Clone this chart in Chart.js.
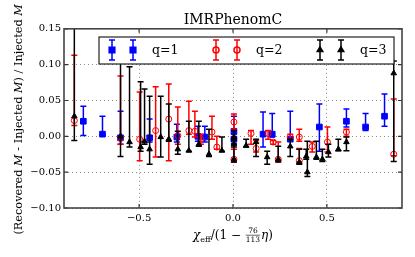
<!DOCTYPE html>
<html>
<head>
<meta charset="utf-8">
<script src="https://cdn.jsdelivr.net/npm/chart.js@4.4.0/dist/chart.umd.min.js"></script>
<style>
  html, body { margin: 0; padding: 0; background: #fff; }
  #wrap { width: 415px; height: 257px; }
</style>
</head>
<body>
<div id="wrap"><canvas id="c" width="415" height="257"></canvas></div>
<script>
// ─── DATA ─────────────────────────────────────────────────────────────────────
const X_TICKS = [-0.5, 0, 0.5];
const X_TICK_LABELS = ['−0.5', '0.0', '0.5'];
const Y_TICKS = [-0.10, -0.05, 0, 0.05, 0.10, 0.15];
const Y_TICK_LABELS = ['−0.10', '−0.05', '0.00', '0.05', '0.10', '0.15'];
const SERIES_NAMES = ['q=1', 'q=2', 'q=3'];
const TITLE = 'IMRPhenomC';

// q=1 : x, value, lower end, upper end of error bar
const Q1_X  = [-0.797, -0.695, -0.599, -0.444, -0.299, -0.187, -0.150, 0.005, 0.005, 0.160, 0.209, 0.305, 0.460, 0.604, 0.706, 0.807];
const Q1_Y  = [ 0.021,  0.003, -0.002, -0.002, -0.001,  0.000, -0.001, 0.007,-0.004, 0.003, 0.003,-0.004, 0.013, 0.021, 0.013, 0.028];
const Q1_LO = [ 0.001,  0.002, -0.011, -0.008, -0.008, -0.007, -0.008,-0.011,-0.010,-0.015,-0.001,-0.007,-0.021, 0.013, 0.008, 0.014];
const Q1_HI = [ 0.042,  0.028,  0.035,  0.024,  0.017,  0.014,  0.014, 0.028, 0.003, 0.034, 0.032, 0.035, 0.045, 0.038, 0.032, 0.059];

// q=2
const Q2_X  = [-0.845,-0.599,-0.497,-0.412,-0.342,-0.294,-0.235,-0.203,-0.171,-0.112,-0.086, 0.005, 0.005, 0.096, 0.123, 0.187, 0.214, 0.241, 0.305, 0.353, 0.353, 0.422, 0.503, 0.604, 0.856];
const Q2_Y  = [ 0.022,-0.003,-0.004, 0.008, 0.024, 0.001, 0.008, 0.007,-0.004, 0.006,-0.015, 0.020,-0.032, 0.004,-0.017, 0.004,-0.008,-0.032,-0.001,-0.001,-0.034,-0.014,-0.008, 0.006,-0.025];
const Q2_LO = [ 0.015,-0.011,-0.034,-0.029,-0.034,-0.011, 0.003,-0.001,-0.011,-0.004,-0.018, 0.010,-0.036,-0.011,-0.022,-0.004,-0.011,-0.035,-0.004,-0.007,-0.036,-0.022,-0.022, 0.000,-0.027];
const Q2_HI = [ 0.113, 0.084, 0.062, 0.069, 0.073, 0.041, 0.049, 0.035, 0.003, 0.028, 0.000, 0.031,-0.018, 0.008,-0.006, 0.008,-0.006,-0.008, 0.003, 0.010,-0.017,-0.008, 0.013, 0.010, 0.052];

// q=3
const Q3_X  = [-0.845,-0.599,-0.551,-0.492,-0.471,-0.444,-0.385,-0.342,-0.294,-0.235,-0.182,-0.128,-0.059, 0.005, 0.005, 0.005, 0.070, 0.123, 0.182, 0.241, 0.305, 0.353, 0.396, 0.390, 0.444, 0.476, 0.508, 0.561, 0.604, 0.856];
const Q3_Y  = [ 0.028, 0.000,-0.008,-0.015,-0.007,-0.018,-0.001,-0.004,-0.018,-0.020,-0.011,-0.025,-0.020,-0.001,-0.011,-0.032,-0.013,-0.008,-0.029,-0.032,-0.014,-0.036,-0.050,-0.028,-0.029,-0.032,-0.022,-0.018,-0.008, 0.088];
const Q3_LO = [-0.006,-0.028,-0.015,-0.021,-0.011,-0.039,-0.029,-0.007,-0.025,-0.021,-0.014,-0.028,-0.021,-0.005,-0.015,-0.036,-0.015,-0.028,-0.039,-0.036,-0.028,-0.039,-0.056,-0.032,-0.032,-0.035,-0.029,-0.020,-0.020,-0.035];
const Q3_HI = [ 0.200, 0.110, 0.097, 0.076, 0.066, 0.056, 0.056, 0.045, 0.007, 0.021, 0.021, 0.010,-0.001, 0.008,-0.005,-0.004,-0.004,-0.004,-0.021,-0.014,-0.004,-0.018,-0.007,-0.018,-0.007,-0.018,-0.011,-0.004,-0.001, 0.105];

// ─── STYLE ────────────────────────────────────────────────────────────────────
const FONT = "'DejaVu Serif', 'Liberation Serif', serif";
const SERIES_STYLE = [
  { color: '#0000ff', pointStyle: 'rect',     radius: 4.0, fill: '#0000ff' },
  { color: '#ff0000', pointStyle: 'circle',   radius: 3.0, fill: 'rgba(0,0,0,0)' },
  { color: '#000000', pointStyle: 'triangle', radius: 3.2, fill: '#000000' }
];

const pts = (xs, ys, lo, hi) => xs.map((v, i) => ({ x: v, y: ys[i], lo: lo[i], hi: hi[i] }));
const SERIES_DATA = [
  pts(Q1_X, Q1_Y, Q1_LO, Q1_HI),
  pts(Q2_X, Q2_Y, Q2_LO, Q2_HI),
  pts(Q3_X, Q3_Y, Q3_LO, Q3_HI)
];

// ─── PLUGINS ──────────────────────────────────────────────────────────────────
// vertical error bars with caps, drawn just before each dataset's markers
const errorBars = {
  id: 'errorBars',
  beforeDatasetDraw(chart, args) {
    const ds = chart.data.datasets[args.index];
    const { ctx, chartArea: a, scales: { x, y } } = chart;
    ctx.save();
    ctx.beginPath();
    ctx.rect(a.left, a.top, a.right - a.left, a.bottom - a.top);
    ctx.clip();
    ctx.strokeStyle = ds.borderColor;
    ctx.lineWidth = 1.5;
    ds.data.forEach(p => {
      const px = x.getPixelForValue(p.x);
      const top = y.getPixelForValue(p.hi);
      const bot = y.getPixelForValue(p.lo);
      ctx.beginPath();
      ctx.moveTo(px, top); ctx.lineTo(px, bot);
      ctx.moveTo(px - 3, top); ctx.lineTo(px + 3, top);
      ctx.moveTo(px - 3, bot); ctx.lineTo(px + 3, bot);
      ctx.stroke();
    });
    ctx.restore();
  }
};

function drawMarker(ctx, st, x, y) {
  ctx.save();
  ctx.strokeStyle = st.color;
  ctx.fillStyle = st.fill;
  Chart.helpers.drawPoint(ctx, { pointStyle: st.pointStyle, radius: st.radius, rotation: 0, borderWidth: 1 }, x, y);
  ctx.restore();
}

function drawLegend(ctx) {
  const l = 99, t = 37, r = 394, b = 64;
  ctx.save();
  ctx.fillStyle = '#fff';
  ctx.fillRect(l, t, r - l, b - t);
  ctx.strokeStyle = '#222';
  ctx.lineWidth = 1.2;
  ctx.strokeRect(l, t, r - l, b - t);
  const cy = 50;
  SERIES_NAMES.forEach((name, i) => {
    const st = SERIES_STYLE[i];
    [112 + i * 104, 133 + i * 104].forEach(mx => {
      ctx.strokeStyle = st.color;
      ctx.lineWidth = 1.5;
      ctx.beginPath();
      ctx.moveTo(mx, cy - 10); ctx.lineTo(mx, cy + 10);
      ctx.moveTo(mx - 3, cy - 10); ctx.lineTo(mx + 3, cy - 10);
      ctx.moveTo(mx - 3, cy + 10); ctx.lineTo(mx + 3, cy + 10);
      ctx.stroke();
      drawMarker(ctx, st, mx, cy);
    });
    ctx.fillStyle = '#000';
    ctx.font = `12.5px ${FONT}`;
    ctx.textBaseline = 'middle';
    ctx.textAlign = 'left';
    ctx.fillText(name, 152 + i * 104, cy + 1);
  });
  ctx.restore();
}

// draws a list of text runs left to right, returns total width
function runs(ctx, parts, x, y, measureOnly) {
  let cx = x;
  parts.forEach(p => {
    ctx.font = `${p.it ? 'italic ' : ''}${p.size}px ${FONT}`;
    const w = ctx.measureText(p.t).width;
    if (!measureOnly) ctx.fillText(p.t, cx, y + (p.dy || 0));
    cx += w;
  });
  return cx - x;
}

function drawAxisLabels(chart) {
  const { ctx, chartArea: a } = chart;
  ctx.save();
  ctx.fillStyle = '#000';
  ctx.textBaseline = 'alphabetic';
  ctx.textAlign = 'left';

  // y label, rotated
  const ys = 11.3;
  const yParts = [
    { t: '(Recovered ', size: ys }, { t: 'M', size: ys, it: true },
    { t: ' - Injected ', size: ys }, { t: 'M', size: ys, it: true },
    { t: ') / Injected ', size: ys }, { t: 'M', size: ys, it: true }
  ];
  const yw = runs(ctx, yParts, 0, 0, true);
  ctx.save();
  ctx.translate(22, (a.top + a.bottom) / 2 + 1);
  ctx.rotate(-Math.PI / 2);
  runs(ctx, yParts, -yw / 2, 0, false);
  ctx.restore();

  // x label: chi_eff / (1 - 76/113 eta)
  const base = 239;
  const pre = [{ t: 'χ', size: 12, it: true }, { t: 'eff', size: 8, dy: 2.5 }, { t: '/(1 − ', size: 12 }];
  const post = [{ t: 'η', size: 12, it: true }, { t: ')', size: 12 }];
  ctx.font = `7.5px ${FONT}`;
  const fw = Math.max(ctx.measureText('76').width, ctx.measureText('113').width) + 2;
  const total = runs(ctx, pre, 0, 0, true) + fw + runs(ctx, post, 0, 0, true);
  let x0 = (a.left + a.right) / 2 - total / 2;
  x0 += runs(ctx, pre, x0, base, false);
  ctx.font = `7.5px ${FONT}`;
  ctx.textAlign = 'center';
  ctx.fillText('76', x0 + fw / 2, base - 6);
  ctx.fillText('113', x0 + fw / 2, base + 3);
  ctx.lineWidth = 0.6;
  ctx.strokeStyle = '#000';
  ctx.beginPath();
  ctx.moveTo(x0 + 1, base - 3.8); ctx.lineTo(x0 + fw - 1, base - 3.8);
  ctx.stroke();
  ctx.textAlign = 'left';
  runs(ctx, post, x0 + fw, base, false);
  ctx.restore();
}

const frame = {
  id: 'frame',
  afterDraw(chart) {
    const { ctx, chartArea: a, scales: { x, y } } = chart;
    ctx.save();
    ctx.strokeStyle = '#333';
    ctx.lineWidth = 1.2;
    // inward tick marks
    ctx.beginPath();
    X_TICKS.forEach(v => {
      const px = x.getPixelForValue(v);
      ctx.moveTo(px, a.bottom); ctx.lineTo(px, a.bottom - 4);
      ctx.moveTo(px, a.top); ctx.lineTo(px, a.top + 4);
    });
    Y_TICKS.forEach(v => {
      const py = y.getPixelForValue(v);
      ctx.moveTo(a.left, py); ctx.lineTo(a.left + 4, py);
      ctx.moveTo(a.right, py); ctx.lineTo(a.right - 4, py);
    });
    ctx.stroke();
    ctx.lineWidth = 1.6;
    ctx.strokeStyle = '#444';
    ctx.strokeRect(a.left, a.top, a.right - a.left, a.bottom - a.top);
    ctx.restore();
    drawLegend(ctx);
    drawAxisLabels(chart);
  }
};

// ─── CHART ────────────────────────────────────────────────────────────────────
const tickFont = { family: FONT, size: 10 };

new Chart(document.getElementById('c'), {
  type: 'scatter',
  data: {
    datasets: SERIES_NAMES.map((name, i) => ({
      label: name,
      data: SERIES_DATA[i],
      pointStyle: SERIES_STYLE[i].pointStyle,
      pointRadius: SERIES_STYLE[i].radius,
      pointBackgroundColor: SERIES_STYLE[i].fill,
      pointBorderColor: SERIES_STYLE[i].color,
      borderColor: SERIES_STYLE[i].color,
      pointBorderWidth: 1,
      order: 3 - i
    }))
  },
  options: {
    responsive: false,
    animation: false,
    devicePixelRatio: 1,
    events: [],
    layout: { padding: { top: 0, right: 13, bottom: 0, left: 0 } },
    plugins: {
      legend: { display: false },
      tooltip: { enabled: false },
      title: {
        display: true,
        text: TITLE,
        fullSize: false,
        color: '#000',
        font: { family: FONT, size: 14, weight: 'normal' },
        padding: { top: 12, bottom: 0 }
      }
    },
    scales: {
      x: {
        type: 'linear',
        min: -0.9,
        max: 0.9,
        afterBuildTicks: s => { s.ticks = X_TICKS.map(v => ({ value: v })); },
        afterFit: s => { s.height = 49; },
        grid: { color: '#8a8a8a', lineWidth: 1, drawTicks: false },
        border: { display: false, dash: [1, 3] },
        ticks: {
          callback: (v, i) => X_TICK_LABELS[i],
          color: '#000', font: tickFont, padding: 4,
          maxRotation: 0, autoSkip: false
        }
      },
      y: {
        type: 'linear',
        min: -0.10,
        max: 0.15,
        afterBuildTicks: s => { s.ticks = Y_TICKS.map(v => ({ value: v })); },
        afterFit: s => { s.width = 64; },
        grid: { color: '#8a8a8a', lineWidth: 1, drawTicks: false },
        border: { display: false, dash: [1, 3] },
        ticks: {
          callback: (v, i) => Y_TICK_LABELS[i],
          color: '#000', font: tickFont, padding: 3, autoSkip: false
        }
      }
    }
  },
  plugins: [errorBars, frame]
});
</script>
</body>
</html>
